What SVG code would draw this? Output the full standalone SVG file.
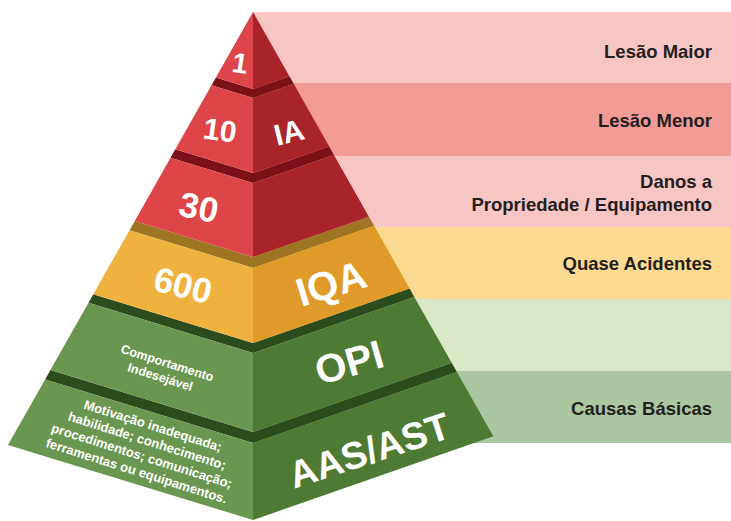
<svg xmlns="http://www.w3.org/2000/svg" width="731" height="521" viewBox="0 0 731 521">
<style>
.bg{fill:#ffffff}
.rl{fill:#de4548}.rr{fill:#a8232a}.rs{fill:#7b1118}
.gl{fill:#f0b23e}.gr{fill:#e09a29}.gs{fill:#9f7523}
.nl{fill:#6b9650}.nr{fill:#4e7a33}.ns{fill:#2d4c1e}
.big{font-family:"Liberation Sans",Arial,sans-serif;font-weight:bold;fill:#ffffff;text-anchor:middle}
.sm{font-family:"Liberation Sans",Arial,sans-serif;font-weight:bold;fill:#ffffff;text-anchor:middle}
.lab{font-family:"Liberation Sans",Arial,sans-serif;font-weight:bold;fill:#231f20;text-anchor:end;font-size:18.5px}
</style>
<rect class="bg" x="0" y="0" width="731" height="521"/>
<g id="bands">
  <g id="band-lesao-maior"><rect x="253" y="12" width="478" height="71" fill="#f8c5c5"/><text class="lab" x="712" y="58">Lesão Maior</text></g>
  <g id="band-lesao-menor"><rect x="253" y="83" width="478" height="73" fill="#f39b97"/><text class="lab" x="712" y="127">Lesão Menor</text></g>
  <g id="band-danos"><rect x="253" y="156" width="478" height="71" fill="#f8c5c5"/><text class="lab" x="712" y="188">Danos a</text><text class="lab" x="712" y="211">Propriedade / Equipamento</text></g>
  <g id="band-quase"><rect x="253" y="227" width="478" height="72" fill="#fdda92"/><text class="lab" x="712" y="270">Quase Acidentes</text></g>
  <g id="band-opi"><rect x="253" y="299" width="478" height="72" fill="#dbe8c7"/></g>
  <g id="band-causas"><rect x="253" y="371" width="478" height="72" fill="#abc6a1"/><text class="lab" x="712" y="415">Causas Básicas</text></g>
</g>
<g id="tier6">
  <polygon class="ns" points="50.4,370 45.1,379.4 253,443 456.9,372.1 451.7,362.8 253,432"/>
  <polygon class="nl" points="45.1,379.4 253,443 253,520 7.9,445"/>
  <polygon class="nr" points="253,443 456.9,372.1 493.3,436.3 253,520"/>
  <text class="big" font-size="38" transform="translate(369,450) rotate(-18)" y="13.6">AAS/AST</text>
  <g class="sm" font-size="13" transform="translate(151.5,430) rotate(17.5)">
    <text x="0" y="0">Motivação inadequada;</text>
    <text x="-1" y="16">habilidade; conhecimento;</text>
    <text x="-1.5" y="32">procedimentos; comunicação;</text>
    <text x="-2" y="48">ferramentas ou equipamentos.</text>
  </g>
</g>
<g id="tier5">
  <polygon class="ns" points="93.3,294.2 88.5,302.7 253,353 414.3,296.9 409.6,288.6 253,343"/>
  <polygon class="nl" points="88.5,302.7 253,353 253,432 50.4,370"/>
  <polygon class="nr" points="253,353 414.3,296.9 451.7,362.8 253,432"/>
  <text class="big" font-size="40" transform="translate(349,362) rotate(-16)" y="14.3">OPI</text>
  <g class="sm" font-size="12.5" transform="translate(166,367) rotate(17.5)">
    <text x="0" y="0">Comportamento</text>
    <text x="-2.5" y="15.5">Indesejável</text>
  </g>
</g>
<g id="tier4">
  <polygon class="gs" points="134.8,220.9 129.5,230.2 253,268 374.1,225.8 368.9,216.7 253,257"/>
  <polygon class="gl" points="129.5,230.2 253,268 253,343 93.3,294.2"/>
  <polygon class="gr" points="253,268 374.1,225.8 409.6,288.6 253,343"/>
  <text class="big" font-size="35" transform="translate(183,285) rotate(14)" y="12.5">600</text>
  <text class="big" font-size="40" transform="translate(331,283) rotate(-17)" y="14.3">IQA</text>
</g>
<g id="tier3">
  <polygon class="rs" points="175.3,149.3 170.5,157.8 253,183 333.9,154.9 329.2,146.6 253,173"/>
  <polygon class="rl" points="170.5,157.8 253,183 253,257 134.8,220.9"/>
  <polygon class="rr" points="253,183 333.9,154.9 368.9,216.7 253,257"/>
  <text class="big" font-size="35" transform="translate(199,207) rotate(12)" y="12.5">30</text>
</g>
<g id="tier2">
  <polygon class="rs" points="215.9,77.6 211.5,85.3 253,98 293.7,83.8 289.4,76.3 253,89"/>
  <polygon class="rl" points="211.5,85.3 253,98 253,173 175.3,149.3"/>
  <polygon class="rr" points="253,98 293.7,83.8 329.2,146.6 253,173"/>
  <text class="big" font-size="30" transform="translate(220,130) rotate(8)" y="10.7">10</text>
  <text class="big" font-size="30" transform="translate(289,132) rotate(-14)" y="10.7">IA</text>
</g>
<g id="tier1">
  <polygon class="rl" points="253,12 253,89 215.9,77.6"/>
  <polygon class="rr" points="253,12 289.4,76.3 253,89"/>
  <text class="big" font-size="28" transform="translate(240,63) rotate(8)" y="10">1</text>
</g>
</svg>
